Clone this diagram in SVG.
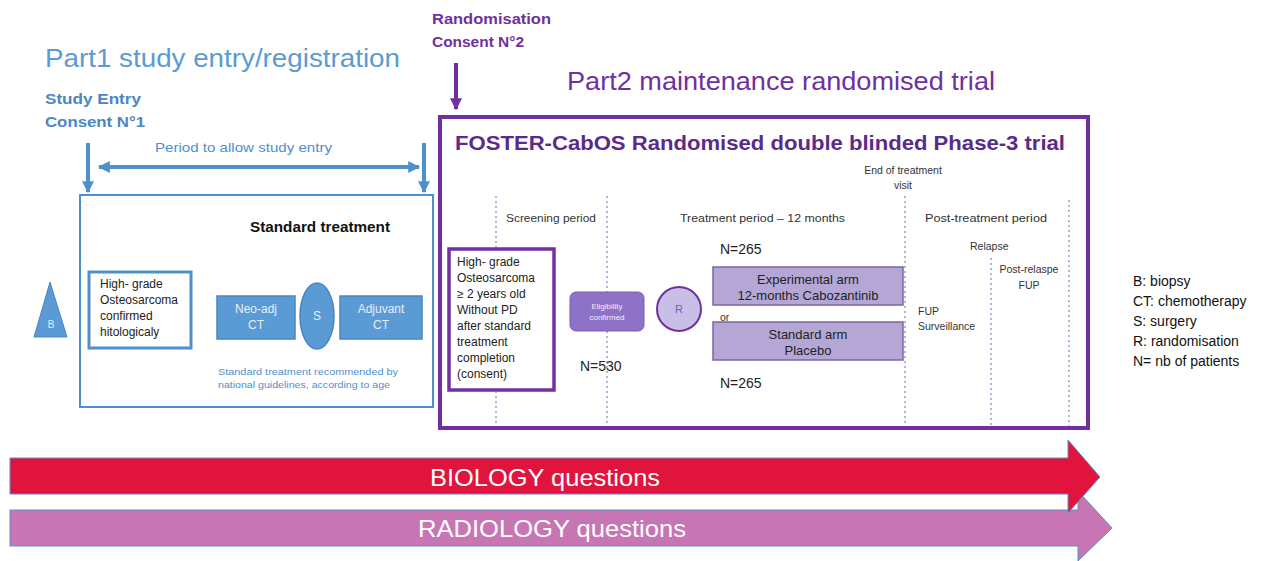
<svg xmlns="http://www.w3.org/2000/svg" width="1282" height="561" viewBox="0 0 1282 561">
<style>
text{font-family:"Liberation Sans",Arial,sans-serif}
.blue{fill:#5b9bd5}
.bt{fill:#4a86c4;font-weight:bold;font-size:14px}
.pt{fill:#7030a0;font-weight:bold;font-size:14px}
.sm{fill:#333;font-size:10.5px}
.md{fill:#222;font-size:12px}
.dash{stroke:#8d7fbf;stroke-width:1.2;stroke-dasharray:2 3;fill:none}
.lav{fill:#b4a7d6;stroke:#8064a2;stroke-width:1.5}
.wt{fill:#e6eef8;font-size:12px;text-anchor:middle}
</style>
<defs>
<marker id="ab" viewBox="0 0 10 10" refX="9" refY="5" markerWidth="3" markerHeight="3" orient="auto-start-reverse"><path d="M0,0L10,5L0,10z" fill="#4f8fcc"/></marker>
<marker id="ap" viewBox="0 0 10 10" refX="9" refY="5" markerWidth="3" markerHeight="3" orient="auto"><path d="M0,0L10,5L0,10z" fill="#7030a0"/></marker>
</defs>
<rect width="1282" height="561" fill="#fff"/>

<g id="part1-header">
<text x="45" y="67" font-size="26" fill="#5b9bd5" textLength="355" lengthAdjust="spacingAndGlyphs">Part1 study entry/registration</text>
<text x="45" y="104" class="bt" textLength="96" lengthAdjust="spacingAndGlyphs">Study Entry</text>
<text x="45" y="127" class="bt" textLength="100" lengthAdjust="spacingAndGlyphs">Consent N°1</text>
<text x="155" y="152" font-size="13" fill="#4f8fcc" textLength="177" lengthAdjust="spacingAndGlyphs">Period to allow study entry</text>
</g>

<g id="connectors">
<line x1="88" y1="143" x2="88" y2="192" stroke="#4f8fcc" stroke-width="4" marker-end="url(#ab)"/>
<line x1="424" y1="143" x2="424" y2="192" stroke="#4f8fcc" stroke-width="4" marker-end="url(#ab)"/>
<line x1="99" y1="167" x2="419" y2="167" stroke="#4f8fcc" stroke-width="4" marker-start="url(#ab)" marker-end="url(#ab)"/>
<line x1="456" y1="63" x2="456" y2="109" stroke="#7030a0" stroke-width="4" marker-end="url(#ap)"/>
</g>

<g id="part1-box">
<rect x="80" y="195" width="353" height="212" fill="#fff" stroke="#4f8fcc" stroke-width="2"/>
<text x="250" y="232" font-size="15" font-weight="bold" fill="#111" textLength="140" lengthAdjust="spacingAndGlyphs">Standard treatment</text>
<text x="218" y="375" font-size="9.5" fill="#4f8fcc" textLength="180" lengthAdjust="spacingAndGlyphs">Standard treatment recommended by</text>
<text x="218" y="388" font-size="9.5" fill="#4f8fcc" textLength="172" lengthAdjust="spacingAndGlyphs">national guidelines, according to age</text>
</g>

<g id="biopsy">
<path d="M50,282 L67,337 L34,337 Z" fill="#5b9bd5" stroke="#4a86c4" stroke-width="1"/>
<text x="51" y="328" font-size="10" fill="#e6eef8" text-anchor="middle">B</text>
</g>

<g id="high-grade-1">
<rect x="89" y="272" width="102" height="76" fill="#fff" stroke="#4f8fcc" stroke-width="3"/>
<text x="100" y="288" class="md">High- grade</text>
<text x="100" y="304" class="md">Osteosarcoma</text>
<text x="100" y="320" class="md">confirmed</text>
<text x="100" y="336" class="md">hitologicaly</text>
</g>

<g id="neoadj">
<rect x="217" y="296" width="78" height="43" fill="#5b9bd5" stroke="#4a86c4" stroke-width="1.5"/>
<text x="256" y="313" class="wt">Neo-adj</text>
<text x="256" y="329" class="wt">CT</text>
</g>
<g id="surgery">
<ellipse cx="317" cy="316" rx="17" ry="33" fill="#5b9bd5" stroke="#4a86c4" stroke-width="1.5"/>
<text x="317" y="320" class="wt" font-size="11">S</text>
</g>
<g id="adjuvant">
<rect x="340" y="296" width="82" height="43" fill="#5b9bd5" stroke="#4a86c4" stroke-width="1.5"/>
<text x="381" y="313" class="wt">Adjuvant</text>
<text x="381" y="329" class="wt">CT</text>
</g>

<g id="part2-header">
<text x="432" y="24" class="pt" font-size="15" textLength="119" lengthAdjust="spacingAndGlyphs">Randomisation</text>
<text x="432" y="47" class="pt" font-size="15" textLength="92" lengthAdjust="spacingAndGlyphs">Consent N°2</text>
<text x="567" y="90" font-size="26" fill="#7030a0" textLength="428" lengthAdjust="spacingAndGlyphs">Part2 maintenance randomised trial</text>
</g>

<g id="part2-box">
<rect x="440" y="117" width="648" height="311" fill="#fff" stroke="#7030a0" stroke-width="4"/>
<text x="455" y="150" font-size="21" font-weight="bold" fill="#5b2a8c" textLength="610" lengthAdjust="spacingAndGlyphs">FOSTER-CabOS  Randomised double blinded Phase-3 trial</text>
<text x="903" y="174" class="sm" text-anchor="middle">End of treatment</text>
<text x="903" y="189" class="sm" text-anchor="middle">visit</text>
<line class="dash" x1="496" y1="196" x2="496" y2="426"/>
<line class="dash" x1="607" y1="196" x2="607" y2="426"/>
<line class="dash" x1="905" y1="196" x2="905" y2="426"/>
<line class="dash" x1="991" y1="258" x2="991" y2="426"/>
<line class="dash" x1="1069" y1="200" x2="1069" y2="426"/>
<text x="506" y="222" class="sm" textLength="90" lengthAdjust="spacingAndGlyphs">Screening period</text>
<text x="680" y="222" class="sm" textLength="165" lengthAdjust="spacingAndGlyphs">Treatment period – 12 months</text>
<text x="925" y="222" class="sm" textLength="122" lengthAdjust="spacingAndGlyphs">Post-treatment period</text>
<text x="970" y="250" class="sm">Relapse</text>
<text x="1029" y="273" class="sm" text-anchor="middle">Post-relaspe</text>
<text x="1029" y="289" class="sm" text-anchor="middle">FUP</text>
<text x="918" y="315" class="sm">FUP</text>
<text x="918" y="330" class="sm">Surveillance</text>
<text x="720" y="254" font-size="14" fill="#222">N=265</text>
<text x="720" y="388" font-size="14" fill="#222">N=265</text>
<text x="580" y="371" font-size="14" fill="#222">N=530</text>
<text x="720" y="321" class="sm">or</text>
</g>

<g id="high-grade-2">
<rect x="449" y="249" width="105" height="141" fill="#fff" stroke="#7030a0" stroke-width="3.5"/>
<text x="457" y="266" class="md">High- grade</text>
<text x="457" y="282" class="md">Osteosarcoma</text>
<text x="457" y="298" class="md">≥ 2 years old</text>
<text x="457" y="314" class="md">Without PD</text>
<text x="457" y="330" class="md">after standard</text>
<text x="457" y="346" class="md">treatment</text>
<text x="457" y="362" class="md">completion</text>
<text x="457" y="378" class="md">(consent)</text>
</g>

<g id="eligibility">
<rect x="570" y="292" width="74" height="39" rx="6" fill="#8e72c8" stroke="#7a5cb8" stroke-width="1"/>
<text x="607" y="309" font-size="8" fill="#f0ecf8" text-anchor="middle">Eligibility</text>
<text x="607" y="320" font-size="8" fill="#f0ecf8" text-anchor="middle">confirmed</text>
</g>

<g id="randomisation">
<circle cx="679" cy="309" r="22" fill="#c9bfe6" stroke="#7030a0" stroke-width="2"/>
<text x="679" y="313" font-size="11" fill="#7a5cb8" text-anchor="middle">R</text>
</g>

<g id="experimental-arm">
<rect x="713" y="267" width="190" height="38" class="lav"/>
<text x="808" y="284" font-size="13" fill="#222" text-anchor="middle">Experimental arm</text>
<text x="808" y="300" font-size="13" fill="#222" text-anchor="middle">12-months Cabozantinib</text>
</g>

<g id="standard-arm">
<rect x="713" y="322" width="190" height="38" class="lav"/>
<text x="808" y="339" font-size="13" fill="#222" text-anchor="middle">Standard arm</text>
<text x="808" y="355" font-size="13" fill="#222" text-anchor="middle">Placebo</text>
</g>

<g id="legend">
<text x="1133" y="286" font-size="14" fill="#111">B: biopsy</text>
<text x="1133" y="306" font-size="14" fill="#111">CT: chemotherapy</text>
<text x="1133" y="326" font-size="14" fill="#111">S: surgery</text>
<text x="1133" y="346" font-size="14" fill="#111">R: randomisation</text>
<text x="1133" y="366" font-size="14" fill="#111">N= nb of patients</text>
</g>

<g id="radiology-arrow">
<path d="M10,510 L1078,510 L1078,491 L1112,528 L1078,561 L1078,546 L10,546 Z" fill="#c875b4" stroke="#5b8fc8" stroke-width="1"/>
<text x="552" y="537" font-size="24" fill="#fff" text-anchor="middle" textLength="268" lengthAdjust="spacingAndGlyphs">RADIOLOGY questions</text>
</g>
<g id="biology-arrow">
<path d="M10,458 L1068,458 L1068,440 L1100,477 L1068,513 L1068,494 L10,494 Z" fill="#e0143c" stroke="#5b8fc8" stroke-width="1"/>
<text x="545" y="486" font-size="24" fill="#fff" text-anchor="middle" textLength="230" lengthAdjust="spacingAndGlyphs">BIOLOGY questions</text>
</g>
</svg>
